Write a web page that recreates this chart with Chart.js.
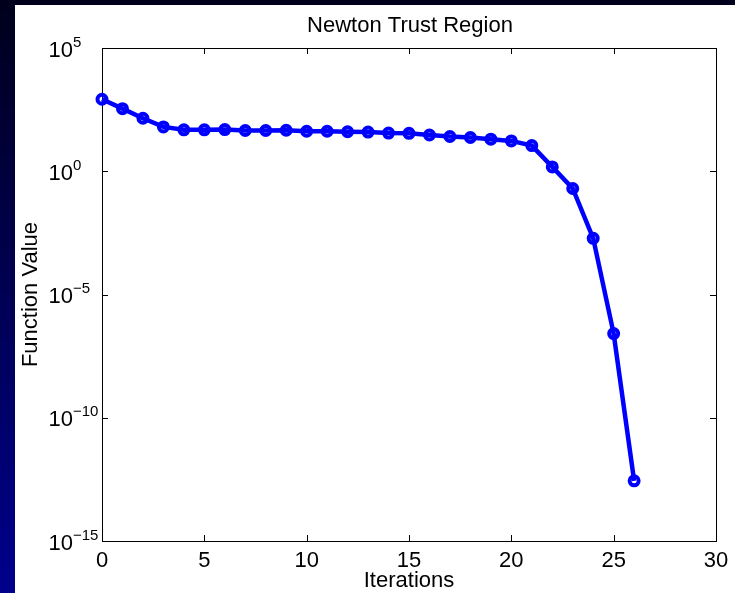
<!DOCTYPE html>
<html>
<head>
<meta charset="utf-8">
<script src="https://cdn.jsdelivr.net/npm/chart.js@4"></script>
<style>
  html, body { margin: 0; padding: 0; }
  body {
    width: 735px; height: 593px; overflow: hidden;
    background: linear-gradient(to bottom, #00001c, #00008c);
  }
  #trust-region {
    position: absolute; left: 15px; top: 5px;
    background: #fff;
  }
</style>
</head>
<body>
<canvas id="trust-region" width="720" height="588"></canvas>
<script>
const iterations = [0, 1, 2, 3, 4, 5, 6, 7, 8, 9, 10, 11, 12, 13, 14, 15, 16, 17, 18, 19, 20, 21, 22, 23, 24, 25, 26]
const functionValues = [832, 347, 141, 63, 48, 48, 49, 45, 45, 46, 42, 42, 40, 39, 35.5, 34.7,
    29.5, 25.7, 23.4, 20, 17, 11, 1.5, 0.2, 1.9e-3, 2.6e-7, 2.75e-13]
const xTicks = [0, 5, 10, 15, 20, 25, 30]
const yTickExponents = [5, 0, -5, -10, -15]

const FONT = "'Liberation Sans', Arial, Helvetica, sans-serif"
const TICK_LEN = 6

// box, inward ticks, 10^n labels and titles, drawn by hand like a MATLAB axes
const matlabAxes = {
    id: 'matlabAxes',
    beforeDatasetsDraw(chart) {
        const { ctx, chartArea: a, scales: { x, y } } = chart
        ctx.save()
        ctx.strokeStyle = '#000'
        ctx.lineWidth = 1
        ctx.strokeRect(Math.round(a.left) + 0.5, Math.round(a.top) + 0.5,
            Math.round(a.width), Math.round(a.height))

        ctx.beginPath()
        xTicks.forEach(t => {
            const px = Math.round(x.getPixelForValue(t)) + 0.5
            ctx.moveTo(px, a.bottom); ctx.lineTo(px, a.bottom - TICK_LEN)
            ctx.moveTo(px, a.top); ctx.lineTo(px, a.top + TICK_LEN)
        })
        yTickExponents.forEach(e => {
            const py = Math.round(y.getPixelForValue(Math.pow(10, e))) + 0.5
            ctx.moveTo(a.left, py); ctx.lineTo(a.left + TICK_LEN, py)
            ctx.moveTo(a.right, py); ctx.lineTo(a.right - TICK_LEN, py)
        })
        ctx.stroke()
        ctx.restore()
    },
    afterDraw(chart) {
        const { ctx, chartArea: a, scales: { x, y } } = chart
        ctx.save()
        ctx.fillStyle = '#000'

        // x tick labels
        ctx.font = '22px ' + FONT
        ctx.textAlign = 'center'
        ctx.textBaseline = 'alphabetic'
        xTicks.forEach(t => {
            ctx.fillText(String(t), x.getPixelForValue(t), a.bottom + 26)
        })

        // y tick labels as 10 with a raised exponent
        yTickExponents.forEach(e => {
            const py = y.getPixelForValue(Math.pow(10, e))
            ctx.font = '22px ' + FONT
            ctx.textAlign = 'right'
            ctx.fillText('10', a.left - 29, py + 8.5)
            ctx.font = '15px ' + FONT
            ctx.textAlign = 'left'
            ctx.fillText(e < 0 ? '\u2212' + (-e) : String(e), a.left - 29, py - 1.5)
        })

        // titles
        ctx.font = '22px ' + FONT
        ctx.textAlign = 'center'
        ctx.fillText('Newton Trust Region', (a.left + a.right) / 2 + 1, 27)
        ctx.fillText('Iterations', (a.left + a.right) / 2, a.bottom + 46)

        ctx.translate(22, (a.top + a.bottom) / 2)
        ctx.rotate(-Math.PI / 2)
        ctx.fillText('Function Value', 0, 0)
        ctx.restore()
    }
}

const trustCanvas = document.querySelector('#trust-region')
const trustChart = new Chart(trustCanvas.getContext('2d'), {
    type: 'line',
    data: {
        datasets: [{
            label: 'Function Value',
            data: iterations.map((it, i) => ({ x: it, y: functionValues[i] })),
            borderColor: '#0000ff',
            borderWidth: 4.5,
            pointStyle: 'circle',
            pointRadius: 4.5,
            pointBorderWidth: 4,
            pointBorderColor: '#0000ff',
            pointBackgroundColor: 'rgba(0,0,0,0)',
            tension: 0,
            clip: false
        }]
    },
    options: {
        responsive: false,
        animation: false,
        layout: {
            padding: { left: 87, right: 19, top: 43, bottom: 52 }
        },
        scales: {
            x: {
                type: 'linear',
                min: 0,
                max: 30,
                display: false
            },
            y: {
                type: 'logarithmic',
                min: 1e-15,
                max: 1e5,
                display: false
            }
        },
        plugins: {
            legend: { display: false },
            tooltip: { enabled: false }
        }
    },
    plugins: [matlabAxes]
})
</script>
</body>
</html>
